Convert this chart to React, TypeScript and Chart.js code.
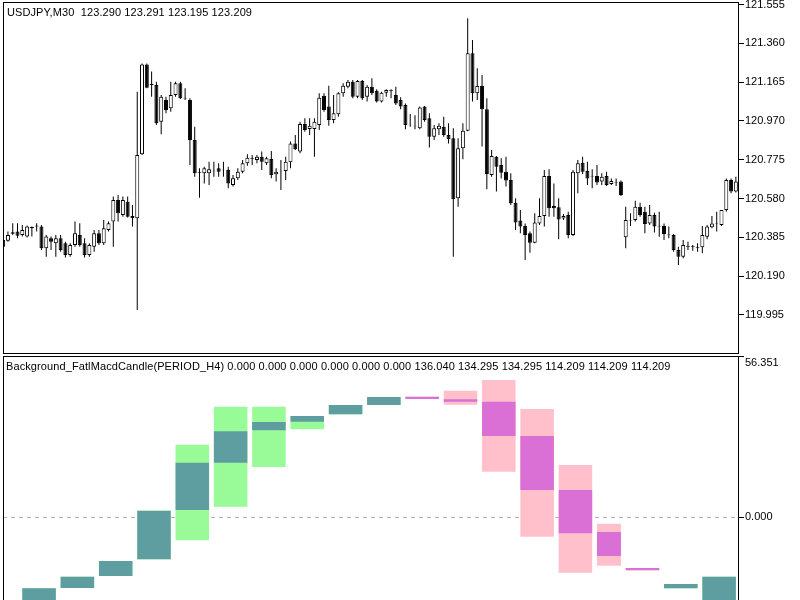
import React, { useEffect, useRef } from 'react';
import { Chart, registerables } from 'chart.js';

Chart.register(...registerables);

// ---------- Price panel (USDJPY, M30) ----------
const priceTicks = [121.555, 121.36, 121.165, 120.97, 120.775, 120.58, 120.385, 120.19, 119.995];
const priceMin = 119.7987;
const priceMax = 121.5625;

const opens = [
  120.372, 120.368, 120.403, 120.414, 120.397, 120.389, 120.430, 120.440, 120.439, 120.330,
  120.380, 120.355, 120.380, 120.355, 120.296, 120.346, 120.397, 120.355, 120.296, 120.338,
  120.405, 120.355, 120.422, 120.464, 120.573, 120.497, 120.564, 120.492, 120.481, 120.802,
  121.254, 121.157, 121.151, 120.966, 121.075, 121.033, 121.100, 121.159, 121.087, 121.075,
  120.874, 120.715, 120.707, 120.707, 120.720, 120.732, 120.725, 120.723, 120.648, 120.682,
  120.715, 120.757, 120.784, 120.774, 120.790, 120.757, 120.779, 120.702, 120.720, 120.718,
  120.762, 120.857, 120.816, 120.955, 120.929, 120.929, 120.950, 121.097, 121.042, 120.975,
  121.003, 121.109, 121.142, 121.167, 121.092, 121.171, 121.092, 121.142, 121.122, 121.067,
  121.112, 121.124, 121.100, 121.075, 121.050, 120.951, 120.946, 120.933, 121.042, 120.983,
  120.891, 120.928, 120.941, 120.899, 120.883, 120.581, 120.832, 120.921, 121.310, 121.109,
  121.145, 121.028, 120.698, 120.790, 120.749, 120.715, 120.673, 120.559, 120.469, 120.442,
  120.405, 120.358, 120.455, 120.492, 120.693, 120.542, 120.536, 120.479, 120.497, 120.397,
  120.707, 120.760, 120.718, 120.695, 120.693, 120.665, 120.693, 120.653, 120.661, 120.665,
  120.385, 120.470, 120.472, 120.539, 120.514, 120.455, 120.497, 120.440, 120.442, 120.399,
  120.397, 120.321, 120.288, 120.340, 120.340, 120.336, 120.335, 120.388, 120.435, 120.457,
  120.447, 120.522, 120.673, 120.615,
];
const highs = [
  120.380, 120.414, 120.456, 120.456, 120.447, 120.444, 120.440, 120.456, 120.447, 120.397,
  120.389, 120.397, 120.397, 120.363, 120.355, 120.464, 120.456, 120.380, 120.355, 120.422,
  120.422, 120.472, 120.464, 120.590, 120.598, 120.590, 120.590, 120.548, 121.117, 121.259,
  121.259, 121.218, 121.167, 121.100, 121.092, 121.167, 121.167, 121.167, 121.134, 121.084,
  120.941, 120.732, 120.740, 120.765, 120.765, 120.757, 120.765, 120.740, 120.698, 120.732,
  120.774, 120.802, 120.799, 120.799, 120.816, 120.790, 120.819, 120.732, 120.774, 120.790,
  120.866, 120.899, 120.966, 120.983, 120.983, 120.983, 121.109, 121.109, 121.147, 121.100,
  121.114, 121.159, 121.176, 121.176, 121.176, 121.176, 121.151, 121.184, 121.129, 121.117,
  121.129, 121.129, 121.142, 121.089, 121.058, 121.005, 120.999, 121.042, 121.045, 121.008,
  120.950, 120.958, 120.991, 120.958, 120.933, 120.883, 120.958, 121.486, 121.377, 121.234,
  121.201, 121.084, 120.824, 120.794, 120.782, 120.790, 120.707, 120.581, 120.522, 120.455,
  120.414, 120.506, 120.581, 120.723, 120.727, 120.656, 120.581, 120.502, 120.514, 120.723,
  120.774, 120.790, 120.765, 120.727, 120.749, 120.707, 120.715, 120.681, 120.681, 120.670,
  120.539, 120.506, 120.569, 120.559, 120.539, 120.548, 120.509, 120.514, 120.455, 120.439,
  120.402, 120.338, 120.372, 120.363, 120.347, 120.355, 120.442, 120.447, 120.492, 120.514,
  120.522, 120.681, 120.681, 120.690,
];
const lows = [
  120.330, 120.363, 120.397, 120.380, 120.389, 120.384, 120.389, 120.414, 120.321, 120.288,
  120.321, 120.288, 120.313, 120.283, 120.288, 120.338, 120.338, 120.283, 120.288, 120.313,
  120.346, 120.346, 120.414, 120.338, 120.464, 120.489, 120.485, 120.439, 120.020, 120.799,
  121.134, 121.092, 120.950, 120.903, 121.008, 121.016, 121.092, 121.080, 121.075, 120.749,
  120.690, 120.584, 120.656, 120.648, 120.690, 120.690, 120.690, 120.631, 120.640, 120.673,
  120.707, 120.745, 120.749, 120.757, 120.723, 120.749, 120.682, 120.665, 120.623, 120.673,
  120.732, 120.824, 120.807, 120.916, 120.899, 120.790, 120.924, 121.016, 120.946, 120.958,
  120.991, 121.092, 121.134, 121.084, 121.084, 121.075, 121.067, 121.100, 121.062, 121.062,
  121.092, 121.084, 121.050, 121.028, 120.928, 120.941, 120.928, 120.928, 120.966, 120.837,
  120.874, 120.899, 120.891, 120.857, 120.288, 120.539, 120.777, 120.918, 121.067, 121.075,
  120.841, 120.626, 120.690, 120.615, 120.681, 120.640, 120.548, 120.422, 120.405, 120.271,
  120.308, 120.355, 120.447, 120.439, 120.489, 120.489, 120.375, 120.472, 120.380, 120.392,
  120.606, 120.703, 120.648, 120.631, 120.648, 120.648, 120.643, 120.648, 120.643, 120.593,
  120.330, 120.442, 120.464, 120.489, 120.405, 120.447, 120.409, 120.388, 120.372, 120.380,
  120.313, 120.246, 120.280, 120.321, 120.318, 120.313, 120.305, 120.375, 120.430, 120.414,
  120.442, 120.514, 120.606, 120.610,
];
const closes = [
  120.338, 120.397, 120.410, 120.393, 120.422, 120.439, 120.437, 120.444, 120.330, 120.389,
  120.363, 120.380, 120.321, 120.296, 120.346, 120.405, 120.346, 120.296, 120.346, 120.405,
  120.355, 120.430, 120.456, 120.573, 120.506, 120.573, 120.489, 120.481, 120.799, 121.254,
  121.137, 121.151, 120.958, 121.092, 121.025, 121.100, 121.159, 121.084, 121.082, 120.874,
  120.707, 120.710, 120.732, 120.727, 120.717, 120.715, 120.722, 120.656, 120.682, 120.715,
  120.757, 120.785, 120.780, 120.790, 120.765, 120.782, 120.698, 120.715, 120.717, 120.765,
  120.857, 120.827, 120.955, 120.924, 120.946, 120.966, 121.087, 121.025, 120.975, 121.008,
  121.109, 121.147, 121.167, 121.092, 121.171, 121.084, 121.142, 121.109, 121.067, 121.112,
  121.125, 121.120, 121.058, 121.042, 120.950, 120.948, 120.943, 121.038, 120.975, 120.891,
  120.933, 120.946, 120.899, 120.878, 120.576, 120.832, 120.921, 121.310, 121.109, 121.145,
  121.028, 120.703, 120.794, 120.740, 120.710, 120.670, 120.556, 120.459, 120.439, 120.397,
  120.358, 120.459, 120.492, 120.693, 120.531, 120.531, 120.475, 120.492, 120.397, 120.715,
  120.757, 120.715, 120.681, 120.691, 120.660, 120.690, 120.648, 120.668, 120.658, 120.598,
  120.472, 120.467, 120.539, 120.497, 120.452, 120.497, 120.439, 120.437, 120.402, 120.395,
  120.321, 120.288, 120.347, 120.336, 120.336, 120.333, 120.397, 120.439, 120.455, 120.454,
  120.522, 120.673, 120.615, 120.665,
];

// ---------- Indicator panel (Background_FatlMacdCandle, H4) ----------
const macdTicks = [56.351, 0];
const macdMin = -29.05;
const macdMax = 56.351;
const h4Start = [4, 12, 20, 28, 36, 44, 52, 60, 68, 76, 84, 92, 100, 108, 116, 124, 130, 138, 146];
const h4End = [11, 19, 27, 35, 43, 51, 59, 67, 75, 83, 91, 99, 107, 115, 123, 129, 137, 145, 153];
const h4Open = [-31, -24.85, -20.65, -14.8, 2.45, 19.0, 30.35, 33.36, 35.95, 39.2, 42.1, 41.2, 40.36, 28.35, 9.45, -5.25, -17.85, -24.96, -31];
const h4Close = [-24.96, -20.9, -15.4, 2.2, 19.0, 30.0, 33.25, 35.35, 39.2, 42.0, 41.3, 40.36, 28.35, 9.45, -5.7, -13.65, -18.66, -23.45, -20.9];
const h4High = [-24.96, -20.9, -15.4, 2.2, 25.3, 38.6, 38.6, 35.35, 39.2, 42.0, 42.1, 44.2, 47.95, 37.8, 18.2, -2.35, -17.85, -23.45, -20.9];
const h4Low = [-31, -24.85, -20.65, -14.8, -8.16, 3.6, 17.5, 30.7, 35.95, 39.2, 41.3, 39.3, 15.86, -6.9, -19.5, -17.05, -18.66, -24.96, -31];

const xMin = -0.031;
const xMax = 153.655;

const FONT = '"Liberation Sans", Arial, sans-serif';

const UP_OUTER = '#98FB98';
const UP_BODY = '#5F9EA0';
const DN_OUTER = '#FFC0CB';
const DN_BODY = '#DA70D6';

function framePlugin(mode: 'top' | 'bottom') {
  return {
    id: 'frame' + mode,
    afterDraw(chart: any) {
      const { ctx, chartArea: a } = chart;
      ctx.save();
      ctx.strokeStyle = '#000';
      ctx.lineWidth = 1;
      if (mode === 'top') {
        ctx.strokeRect(a.left + 0.5, a.top - 0.5, a.right - a.left - 1, a.bottom - a.top);
      } else {
        ctx.strokeRect(a.left + 0.5, a.top + 0.5, a.right - a.left - 1, a.bottom - a.top + 10);
      }
      ctx.restore();
    },
  };
}

const xScale = {
  type: 'linear' as const,
  min: xMin,
  max: xMax,
  display: false,
  offset: false,
  ticks: { stepSize: 50 },
};

export default function App() {
  const topRef = useRef<HTMLCanvasElement | null>(null);
  const botRef = useRef<HTMLCanvasElement | null>(null);

  useEffect(() => {
    const wickData = opens.map((_, i) => ({ x: i, y: [lows[i], highs[i]] }));
    const bodyData = opens.map((o, i) => ({ x: i, y: [o, closes[i]] }));
    const bodyColors = opens.map((o, i) => (closes[i] >= o ? '#ffffff' : '#000000'));

    const top = new Chart(topRef.current as HTMLCanvasElement, {
      type: 'bar',
      data: {
        datasets: [
          {
            label: 'wick',
            data: wickData as any,
            backgroundColor: '#000',
            borderWidth: 0,
            maxBarThickness: 1,
            barPercentage: 1,
            categoryPercentage: 1,
            grouped: false,
            inflateAmount: 0,
            order: 2,
          } as any,
          {
            label: 'body',
            data: bodyData as any,
            backgroundColor: bodyColors,
            borderColor: '#000',
            borderWidth: 1,
            borderSkipped: false,
            maxBarThickness: 4,
            barPercentage: 1,
            categoryPercentage: 1,
            grouped: false,
            inflateAmount: 0,
            order: 1,
          } as any,
        ],
      },
      options: {
        responsive: false,
        animation: false,
        devicePixelRatio: 1,
        events: [],
        layout: { padding: { left: 3, top: 3, right: 0, bottom: 0 } },
        plugins: { legend: { display: false }, tooltip: { enabled: false } },
        scales: {
          x: xScale as any,
          y: {
            type: 'linear',
            position: 'right',
            min: priceMin,
            max: priceMax,
            afterBuildTicks: (s: any) => {
              s.ticks = priceTicks.map((v) => ({ value: v }));
            },
            afterFit: (s: any) => {
              s.width = 61;
              s.paddingTop = 0;
              s.paddingBottom = 0;
            },
            grid: { drawOnChartArea: false, drawTicks: true, tickLength: 5, color: '#000', tickColor: '#000' },
            border: { display: false },
            ticks: {
              autoSkip: false,
              color: '#000',
              padding: 1,
              font: { family: FONT, size: 11 },
              callback: (v: any) => Number(v).toFixed(3),
            },
          } as any,
        },
      },
      plugins: [framePlugin('top')],
    });

    // indicator datasets grouped by H4 bar length (in M30 candles)
    const pxPerIndex = 736 / (xMax - xMin);
    const lengths = Array.from(new Set(h4Start.map((s, i) => h4End[i] - s)));
    const botDatasets: any[] = [];
    lengths.forEach((len) => {
      const idx = h4Start.map((_, i) => i).filter((i) => h4End[i] - h4Start[i] === len);
      const centers = idx.map((i) => (h4Start[i] + h4End[i]) / 2);
      const up = idx.map((i) => h4Close[i] >= h4Open[i]);
      const common = {
        maxBarThickness: len * pxPerIndex,
        barPercentage: 1,
        categoryPercentage: 1,
        grouped: false,
        inflateAmount: 0,
        borderWidth: 0,
      };
      botDatasets.push({
        ...common,
        label: 'range' + len,
        data: idx.map((i, k) => ({ x: centers[k], y: [h4Low[i], h4High[i]] })),
        backgroundColor: up.map((u) => (u ? UP_OUTER : DN_OUTER)),
        order: 2,
      });
      botDatasets.push({
        ...common,
        label: 'body' + len,
        data: idx.map((i, k) => ({ x: centers[k], y: [h4Open[i], h4Close[i]] })),
        backgroundColor: up.map((u) => (u ? UP_BODY : DN_BODY)),
        order: 1,
      });
    });

    const bot = new Chart(botRef.current as HTMLCanvasElement, {
      type: 'bar',
      data: { datasets: botDatasets },
      options: {
        responsive: false,
        animation: false,
        devicePixelRatio: 1,
        events: [],
        layout: { padding: { left: 3, top: 1, right: 0, bottom: 0 } },
        plugins: { legend: { display: false }, tooltip: { enabled: false } },
        scales: {
          x: xScale as any,
          y: {
            type: 'linear',
            position: 'right',
            min: macdMin,
            max: macdMax,
            z: 1,
            afterBuildTicks: (s: any) => {
              s.ticks = macdTicks.map((v) => ({ value: v }));
            },
            afterFit: (s: any) => {
              s.width = 61;
              s.paddingTop = 0;
              s.paddingBottom = 0;
            },
            grid: {
              drawOnChartArea: true,
              drawTicks: true,
              tickLength: 5,
              tickColor: '#000',
              color: (c: any) => (c.tick && c.tick.value === 0 ? '#b4b4b4' : 'rgba(0,0,0,0)'),
            },
            border: { display: false, dash: [4, 4] },
            ticks: {
              autoSkip: false,
              color: '#000',
              padding: 1,
              font: { family: FONT, size: 11 },
              callback: (v: any) => (Number(v) === macdTicks[0] ? ['', Number(v).toFixed(3)] : Number(v).toFixed(3)),
            },
          } as any,
        },
      },
      plugins: [framePlugin('bottom')],
    });

    return () => {
      top.destroy();
      bot.destroy();
    };
  }, []);

  const textStyle: React.CSSProperties = {
    position: 'absolute',
    font: `11px ${FONT}`,
    lineHeight: '13px',
    letterSpacing: '0.1px',
    whiteSpace: 'pre',
    color: '#000',
  };

  return (
    <div style={{ position: 'absolute', left: 0, top: 0, width: 800, height: 600, background: '#fff', overflow: 'hidden' }}>
      <canvas ref={topRef} width={800} height={354} style={{ position: 'absolute', left: 0, top: 0, width: 800, height: 354, display: 'block' }} />
      <canvas ref={botRef} width={800} height={245} style={{ position: 'absolute', left: 0, top: 355, width: 800, height: 245, display: 'block' }} />
      <div style={{ ...textStyle, left: 7, top: 6 }}>USDJPY,M30  123.290 123.291 123.195 123.209</div>
      <div style={{ ...textStyle, left: 6, top: 360 }}>
        Background_FatlMacdCandle(PERIOD_H4) 0.000 0.000 0.000 0.000 0.000 0.000 136.040 134.295 134.295 114.209 114.209 114.209
      </div>
    </div>
  );
}
